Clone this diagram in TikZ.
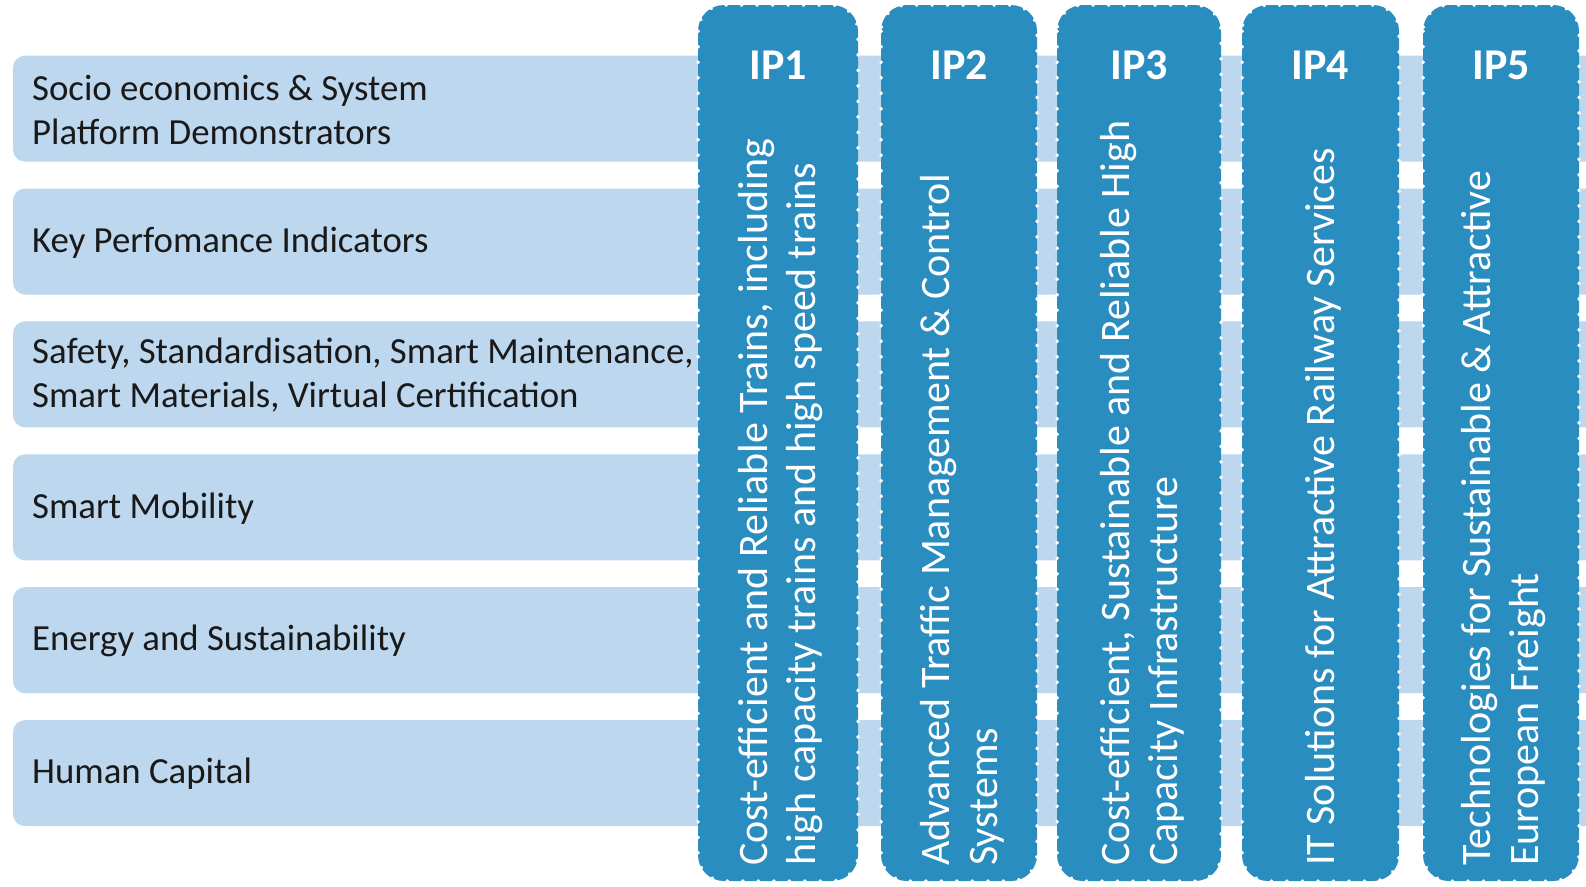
\documentclass[tikz,border=0pt]{standalone}
\usepackage{fontspec}
\setmainfont{Carlito}
\definecolor{barblue}{RGB}{189,215,238}
\definecolor{ipblue}{RGB}{42,141,192}
\definecolor{textgray}{RGB}{25,25,25}
\begin{document}
\begin{tikzpicture}[x=1pt,y=-1pt,
  bar/.style={fill=barblue, rounded corners=12pt},
  col/.style={fill=ipblue, rounded corners=26pt},
  colrim/.style={draw=white, line width=3.5pt, line cap=round,
                 dash pattern=on 0.5pt off 15pt, rounded corners=26pt},
  bartext/.style={anchor=west, inner sep=0pt, align=left, text=textgray,
                  font=\fontsize{36.8}{44}\selectfont},
  iptitle/.style={inner sep=0pt, text=white,
                  font=\fontsize{44}{50}\selectfont\bfseries},
  iptext/.style={rotate=90, anchor=west, inner sep=0pt, align=left, text=white,
                 font=\fontsize{42}{48}\selectfont}
]
\clip (0,0) rectangle (1586,886);

% horizontal theme bars
\foreach \i/\txt in {0/{Socio economics \& System\\Platform Demonstrators},
                     1/{Key Perfomance Indicators},
                     2/{Safety, Standardisation, Smart Maintenance,\\Smart Materials, Virtual Certification},
                     3/{Smart Mobility},
                     4/{Energy and Sustainability},
                     5/{Human Capital}} {
  \pgfmathsetmacro{\top}{55.6+132.9*\i}
  \fill[bar] (13,\top) rectangle (1620,\top+106);
  \node[bartext] (theme\i) at (32,\top+54) {\txt};
}

% innovation programme columns
\foreach \n/\l/\r/\txt in {
   1/698/858/{Cost-efficient and Reliable Trains, including\\high capacity trains and high speed trains},
   2/881/1037/{Advanced Traffic Management \& Control\\Systems},
   3/1057/1221/{Cost-efficient, Sustainable and Reliable High\\Capacity Infrastructure},
   4/1242/1399/{IT Solutions for Attractive Railway Services},
   5/1423/1579/{Technologies for Sustainable \& Attractive\\European Freight}} {
  \fill[col] (\l,5) rectangle (\r,881);
  \draw[colrim] (\l,5) rectangle (\r,881);
  \pgfmathsetmacro{\mid}{(\l+\r)/2+3}
  \node[iptitle] (ip\n) at (\mid-3,65) {IP\n};
  \node[iptext] (ipdesc\n) at (\mid,866) {\txt};
}
\end{tikzpicture}
\end{document}
